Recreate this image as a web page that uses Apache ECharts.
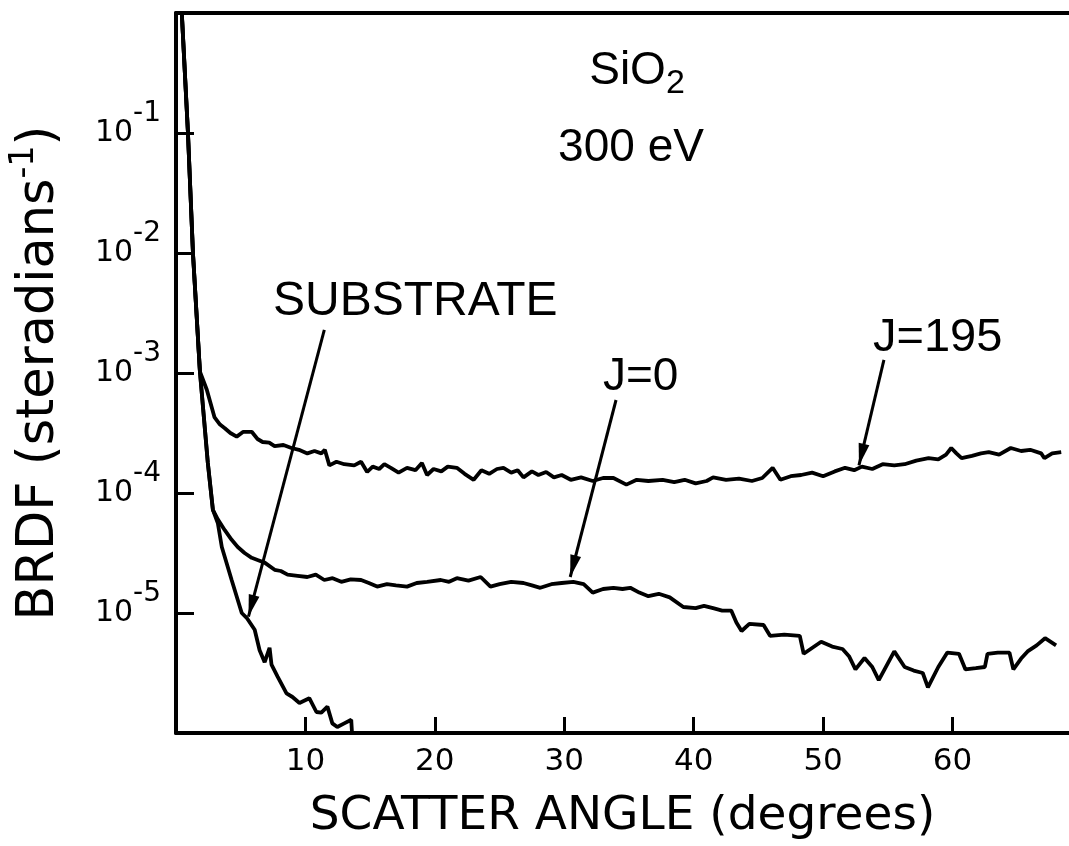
<!DOCTYPE html>
<html>
<head>
<meta charset="utf-8">
<script src="https://cdn.jsdelivr.net/npm/echarts@6/dist/echarts.min.js"></script>
<style>
html,body{margin:0;padding:0;background:#fff;}
#chart{width:1069px;height:846px;}
</style>
</head>
<body>
<div id="chart"></div>
<script>
// Scatter angle (degrees) and log10(BRDF) values
const angleJ195 = [0.4,0.92,1.31,1.85,2.38,2.98,3.4,3.77,4.2,4.69,5.2,5.85,6.3,6.69,7.2,7.62,8.3,8.92,9.5,10.15,10.7,11.23,11.5,11.85,12.4,13.0,13.77,14.3,14.77,15.2,15.7,16.1,16.6,17.2,17.85,18.5,19.0,19.4,19.9,20.5,21.0,21.7,22.3,23.0,23.6,24.2,24.8,25.3,25.9,26.4,26.85,27.5,28.0,28.6,29.2,29.8,30.5,31.3,32.2,33.0,33.8,34.8,35.6,36.5,37.6,38.5,39.3,40.15,41.0,41.5,42.5,43.5,44.5,45.3,46.1,46.7,47.5,48.3,49.15,50.0,50.9,51.7,52.4,53.0,53.8,54.6,55.5,56.3,57.2,58.15,58.9,59.5,59.9,60.3,60.7,61.5,62.2,62.8,63.6,64.5,65.3,66.0,66.85,67.1,67.7,68.4];
const expJ195 = [0.1,-0.99,-2.0,-2.99,-3.14,-3.37,-3.43,-3.46,-3.5,-3.53,-3.49,-3.49,-3.55,-3.575,-3.58,-3.61,-3.6,-3.625,-3.64,-3.67,-3.65,-3.67,-3.64,-3.77,-3.74,-3.76,-3.77,-3.74,-3.825,-3.78,-3.8,-3.76,-3.79,-3.83,-3.79,-3.81,-3.75,-3.85,-3.8,-3.82,-3.78,-3.79,-3.84,-3.89,-3.81,-3.84,-3.8,-3.79,-3.83,-3.81,-3.87,-3.82,-3.85,-3.825,-3.87,-3.85,-3.89,-3.87,-3.9,-3.875,-3.875,-3.93,-3.89,-3.9,-3.89,-3.91,-3.89,-3.92,-3.9,-3.87,-3.89,-3.88,-3.9,-3.875,-3.79,-3.89,-3.86,-3.85,-3.83,-3.86,-3.82,-3.79,-3.81,-3.78,-3.8,-3.76,-3.77,-3.76,-3.73,-3.71,-3.72,-3.68,-3.625,-3.67,-3.71,-3.69,-3.67,-3.66,-3.68,-3.625,-3.65,-3.64,-3.67,-3.71,-3.67,-3.66];

const angleJ0 = [0.4,0.92,1.31,1.85,2.46,2.85,3.23,3.77,4.3,4.77,5.3,5.85,6.35,6.85,7.62,8.1,8.62,9.4,10.15,10.8,11.46,12.1,12.77,13.5,14.3,14.9,15.54,16.3,17.0,17.85,18.6,19.4,20.46,21.1,21.7,22.6,23.54,24.3,25.0,25.9,26.85,27.5,28.15,29.0,29.8,30.7,31.5,32.2,33.0,33.8,34.5,35.1,35.8,36.5,37.3,38.15,39.2,40.15,40.8,41.5,42.2,42.9,43.3,43.7,44.3,45.4,45.9,47.0,48.2,48.5,49.85,50.7,51.5,52.0,52.5,53.2,53.8,54.3,55.0,55.5,56.3,57.0,57.7,58.1,58.9,59.6,60.5,61.0,61.8,62.5,62.7,63.5,64.4,64.7,65.3,65.8,66.5,67.15,68.0];
const expJ0 = [0.1,-0.99,-2.0,-2.99,-3.75,-4.14,-4.22,-4.31,-4.39,-4.45,-4.5,-4.54,-4.56,-4.58,-4.64,-4.65,-4.68,-4.69,-4.7,-4.68,-4.725,-4.71,-4.74,-4.72,-4.725,-4.75,-4.78,-4.76,-4.77,-4.78,-4.75,-4.74,-4.725,-4.74,-4.71,-4.73,-4.7,-4.78,-4.76,-4.74,-4.75,-4.77,-4.79,-4.76,-4.75,-4.74,-4.76,-4.83,-4.8,-4.79,-4.8,-4.79,-4.83,-4.86,-4.84,-4.87,-4.95,-4.96,-4.94,-4.96,-4.98,-4.98,-5.08,-5.15,-5.09,-5.1,-5.19,-5.18,-5.19,-5.34,-5.24,-5.28,-5.3,-5.36,-5.47,-5.375,-5.45,-5.56,-5.42,-5.32,-5.45,-5.48,-5.5,-5.62,-5.45,-5.33,-5.34,-5.47,-5.46,-5.45,-5.34,-5.33,-5.33,-5.47,-5.38,-5.32,-5.27,-5.21,-5.27];

const angleSub = [0.4,0.92,1.31,1.85,2.46,2.85,3.23,3.54,4.3,5.08,5.46,6.08,6.46,6.85,7.23,7.38,7.85,8.54,9.0,9.54,10.3,10.85,11.23,11.7,12.08,12.46,13.0,13.54,13.6];
const expSub = [0.1,-0.99,-2.0,-2.99,-3.75,-4.14,-4.25,-4.45,-4.725,-5.0,-5.04,-5.14,-5.31,-5.41,-5.29,-5.43,-5.53,-5.67,-5.7,-5.75,-5.71,-5.825,-5.83,-5.78,-5.92,-5.95,-5.92,-5.89,-6.0];

const xTicks = [10,20,30,40,50,60];
const yTickExps = [-1,-2,-3,-4,-5];

// arrow annotations: [fromAngle, fromExp, toAngle, toExp]
const arrowSub = [11.46,-2.64,5.6,-5.03];
const arrowJ0 = [34.0,-3.225,30.46,-4.7];
const arrowJ195 = [54.7,-2.89,52.77,-3.77];

function toData(xs, es){ return xs.map((x,i)=>[x, Math.pow(10, es[i])]); }
function arrow(a){ return [{coord:[a[0], Math.pow(10,a[1])]},{coord:[a[2], Math.pow(10,a[3])]}]; }

const FONT = 'Liberation Sans';
const AXFONT = 'DejaVu Sans';
const chart = echarts.init(document.getElementById('chart'), null, {renderer:'canvas'});
const lineStyle = {color:'#000', width:3.8};

chart.setOption({
  animation:false,
  backgroundColor:'#fff',
  grid:{left:172, top:13, right:0, bottom:113, containLabel:false},
  xAxis:[{
    type:'value', min:0, max:69, interval:10,
    name:'SCATTER ANGLE (degrees)', nameLocation:'middle', nameGap:60,
    nameTextStyle:{fontFamily:AXFONT, fontSize:47, color:'#000'},
    axisLine:{lineStyle:{color:'#000', width:4}},
    axisTick:{inside:true, length:16, lineStyle:{color:'#000', width:3}},
    axisLabel:{showMinLabel:false, showMaxLabel:false, margin:13, fontFamily:AXFONT, fontSize:31, color:'#000',
      formatter:v=> xTicks.indexOf(v)>=0 ? String(v) : ''},
    splitLine:{show:false}
  },{
    type:'value', min:0, max:69, position:'top',
    axisLine:{lineStyle:{color:'#000', width:4}},
    axisTick:{show:false}, axisLabel:{show:false}, splitLine:{show:false}
  }],
  yAxis:{
    type:'log', logBase:10, min:1e-6, max:1,
    name:'{t|BRDF (steradians}{s|-1}{t|)}', nameLocation:'middle', nameGap:104, nameRotate:90,
    nameTextStyle:{rich:{
      t:{fontFamily:AXFONT, fontSize:51, color:'#000', lineHeight:64},
      s:{fontFamily:AXFONT, fontSize:33, color:'#000', lineHeight:33, verticalAlign:'top'}
    }},
    axisLine:{lineStyle:{color:'#000', width:4}},
    axisTick:{inside:true, length:18, lineStyle:{color:'#000', width:3}},
    minorTick:{show:false},
    axisLabel:{showMinLabel:false, showMaxLabel:false, margin:15,
      formatter:v=>{ const e=Math.round(Math.log10(v)); return yTickExps.indexOf(e)>=0 ? '{b|10}{s|'+e+'}' : ''; },
      rich:{
        b:{fontFamily:AXFONT, fontSize:30, color:'#000', lineHeight:66},
        s:{fontFamily:AXFONT, fontSize:28, color:'#000', lineHeight:28, verticalAlign:'top'}
      }},
    splitLine:{show:false}
  },
  series:[
    {type:'line', name:'J=195', data:toData(angleJ195, expJ195), showSymbol:false, symbol:'none', lineStyle, z:3},
    {type:'line', name:'J=0', data:toData(angleJ0, expJ0), showSymbol:false, symbol:'none', lineStyle, z:3},
    {type:'line', name:'SUBSTRATE', data:toData(angleSub, expSub), showSymbol:false, symbol:'none', lineStyle, z:3,
      markLine:{
        silent:true, animation:false,
        symbol:['none','path://M5,0L10,20L0,20Z'], symbolSize:[11,22], symbolOffset:[0,[0,11]],
        lineStyle:{color:'#000', width:3, type:'solid'},
        itemStyle:{color:'#000'},
        label:{show:false},
        data:[arrow(arrowSub), arrow(arrowJ0), arrow(arrowJ195)]
      }}
  ],
  graphic:[
    {type:'text', x:637, y:71, style:{text:'{a|SiO}{b|2}', align:'center', verticalAlign:'middle',
      rich:{a:{fontFamily:FONT, fontSize:46, lineHeight:60, fill:'#000'}, b:{fontFamily:FONT, fontSize:34, lineHeight:34, verticalAlign:'bottom', fill:'#000'}}}},
    {type:'text', x:631, y:148, style:{text:'300 eV', fontFamily:FONT, fontSize:46, fill:'#000', align:'center', verticalAlign:'middle'}},
    {type:'text', x:273, y:302, style:{text:'SUBSTRATE', fontFamily:FONT, fontSize:48, fill:'#000', align:'left', verticalAlign:'middle'}},
    {type:'text', x:603, y:377, style:{text:'J=0', fontFamily:FONT, fontSize:46, fill:'#000', align:'left', verticalAlign:'middle'}},
    {type:'text', x:873, y:338, style:{text:'J=195', fontFamily:FONT, fontSize:47, fill:'#000', align:'left', verticalAlign:'middle'}}
  ]
});
</script>
</body>
</html>
